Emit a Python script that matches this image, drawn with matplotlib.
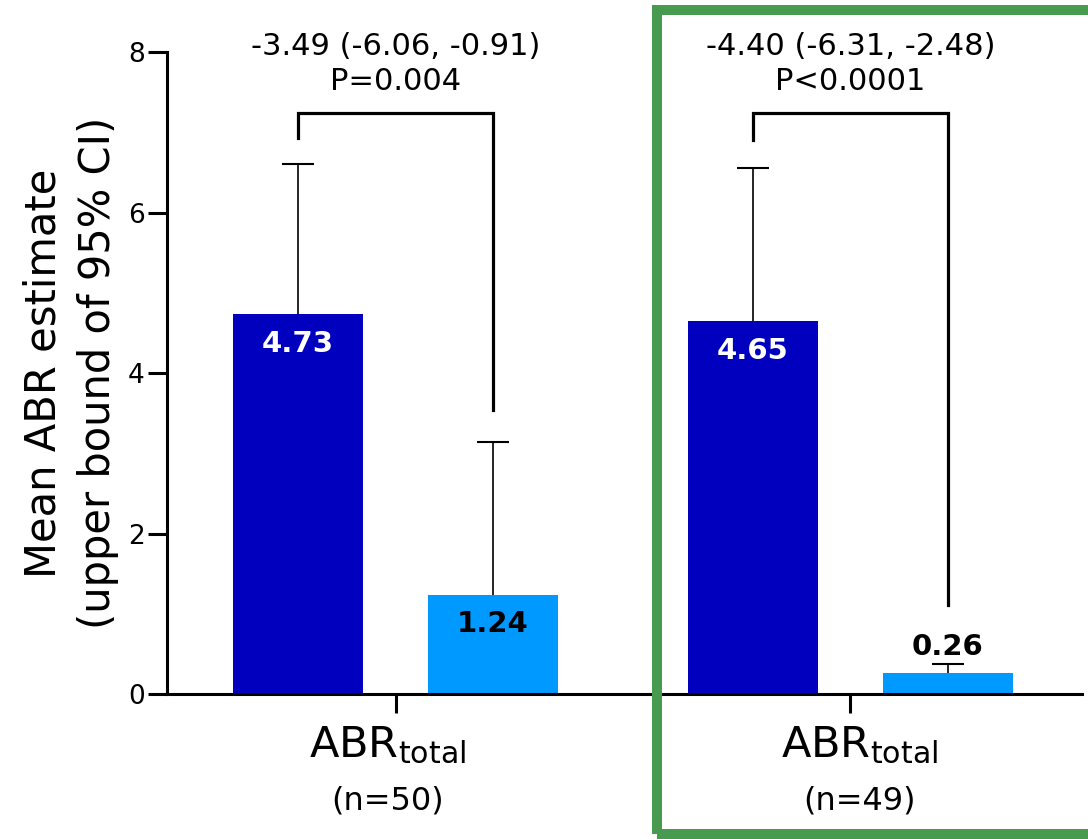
import numpy as np
import matplotlib.pyplot as plt
from matplotlib.patches import Rectangle

plt.rcParams['font.family'] = ['DejaVu Sans']
plt.rcParams['mathtext.fontset'] = 'dejavusans'

# valeurs
bar_x = [0.0, 1.5, 3.5, 5.0]
means = [4.73, 1.24, 4.65, 0.26]
upper_ci = [6.60, 3.14, 6.55, 0.38]
bar_colors = ['#0000BE', '#0099FF', '#0000BE', '#0099FF']
label_colors = ['white', 'black', 'white', 'black']

group_x = [0.75, 4.25]
group_n = ['(n=50)', '(n=49)']
diff_txt = ['-3.49 (-6.06, -0.91)', '-4.40 (-6.31, -2.48)']
p_txt = ['P=0.004', 'P<0.0001']

# crochets de comparaison
bracket_top = 7.24
bracket_left_end = [6.93, 6.90]
bracket_right_end = [3.54, 1.11]

fig = plt.figure(figsize=(10.88, 8.39), dpi=100)
ax = fig.add_axes([0.1535, 0.1728, 0.841, 0.7652])

ax.bar(bar_x, means, width=1.0, color=bar_colors, zorder=2)

# barres d'erreur (borne sup. seulement)
cap = 0.123
ax.vlines(bar_x, means, upper_ci, color='black', lw=1.2, zorder=1)
ax.hlines(upper_ci, np.array(bar_x) - cap, np.array(bar_x) + cap, color='black', lw=1.5, zorder=3)

for x, v, u, c in zip(bar_x, means, upper_ci, label_colors):
    if v > 1:
        ax.text(x, v - 0.37, f'{v:.2f}', ha='center', va='center', color=c,
                fontsize=21, fontweight='bold', zorder=4)
    else:
        ax.text(x, u + 0.2, f'{v:.2f}', ha='center', va='center', color=c,
                fontsize=21, fontweight='bold', zorder=4)

for i in range(2):
    x1 = bar_x[2 * i]
    x2 = bar_x[2 * i + 1]
    ax.plot([x1, x1, x2, x2],
            [bracket_left_end[i], bracket_top, bracket_top, bracket_right_end[i]],
            color='black', lw=2.3, solid_joinstyle='miter', clip_on=False)
    ax.text(group_x[i], 8.07, diff_txt[i], ha='center', va='center', fontsize=22)
    ax.text(group_x[i], 7.63, p_txt[i], ha='center', va='center', fontsize=22)

label_shift = [-0.06, 0.07]
for i in range(2):
    ax.text(group_x[i] + label_shift[i], -0.785, r'ABR$_{\rm total}$', ha='center',
            va='baseline', fontsize=31)
    ax.text(group_x[i] + label_shift[i], -1.445, group_n[i], ha='center',
            va='baseline', fontsize=23)

ax.set_xlim(-1.0077, 6.031)
ax.set_ylim(0, 8)
ax.set_yticks([0, 2, 4, 6, 8])
ax.set_xticks(group_x)
ax.set_xticklabels([])
ax.spines['top'].set_visible(False)
ax.spines['right'].set_visible(False)
ax.spines['left'].set_linewidth(2.2)
ax.spines['bottom'].set_linewidth(2.2)
ax.tick_params(axis='y', length=14, width=2.2, labelsize=19, pad=2)
ax.tick_params(axis='x', length=14, width=2.2)

ax.set_ylabel('Mean ABR estimate\n(upper bound of 95% CI)', fontsize=30, linespacing=1.35)
ax.yaxis.set_label_coords(-0.053, 0.5)

# cadre vert autour du second groupe
fig.add_artist(Rectangle((657 / 1088, 1 - 834 / 839), (1120 - 657) / 1088, (834 - 10) / 839,
                         transform=fig.transFigure, fill=False, ec='#479A4E', lw=7.2,
                         zorder=10))

fig.savefig('out.png', dpi=100)
